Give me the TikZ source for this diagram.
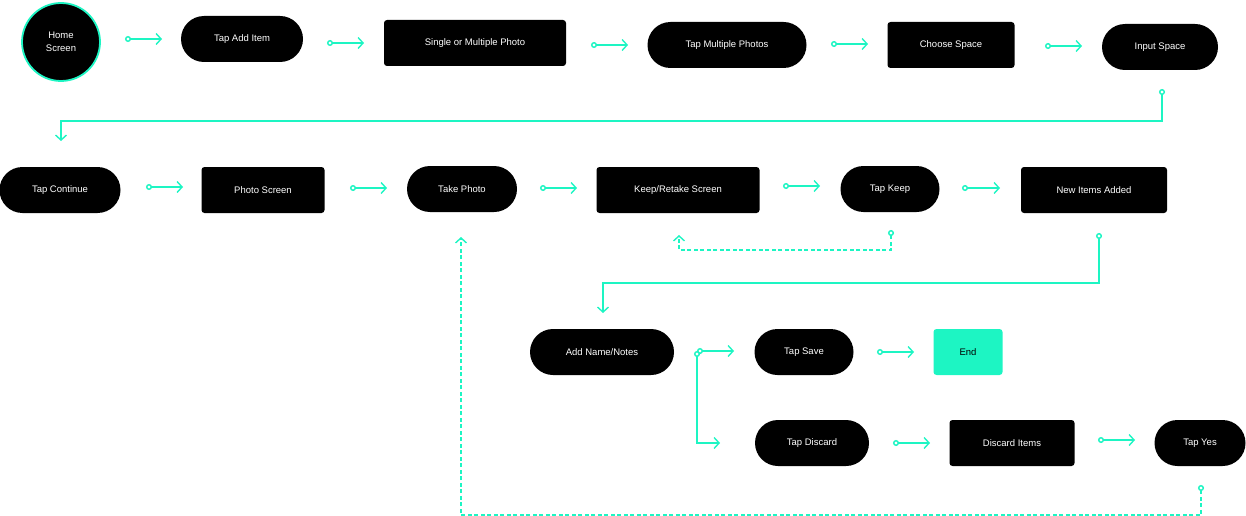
\documentclass[tikz,border=0pt]{standalone}
\usepackage{fontspec}
\setmainfont{Liberation Sans}
\usetikzlibrary{arrows.meta}
\definecolor{mint}{HTML}{1DF5C3}
\begin{document}
\begin{tikzpicture}[x=1pt,y=-1pt,
pill/.style={fill=black,text=white,rounded corners=23pt,minimum height=46pt,font=\fontsize{9.5}{11}\selectfont},
box/.style={fill=black,text=white,rounded corners=3pt,minimum height=46pt,font=\fontsize{9.5}{11}\selectfont},
flow/.style={mint,line width=1.4pt,{Circle[open,length=6pt,width=6pt,fill=white]}-{Straight Barb[length=5pt,width=11pt]}},
back/.style={flow,dashed,dash pattern=on 4pt off 2.5pt}]
\useasboundingbox (0,0) rectangle (1246,516);
\node (home) [circle,fill=black,draw=mint,line width=1.8pt,minimum size=78pt,text=white,align=center,
    font=\fontsize{9.5}{13}\selectfont] at (61,42) {Home\\Screen};
\node (additem) [pill,minimum width=122pt] at (242,39) {Tap Add Item};
\node (single) [box,minimum width=182pt] at (475,43) {Single or Multiple Photo};
\node (multi) [pill,minimum width=159pt] at (727,45) {Tap Multiple Photos};
\node (choose) [box,minimum width=127pt] at (951,45) {Choose Space};
\node (input) [pill,minimum width=116pt] at (1160,47) {Input Space};
\node (cont) [pill,minimum width=121pt] at (60,190) {Tap Continue};
\node (photo) [box,minimum width=123pt] at (263,190) {Photo Screen};
\node (take) [pill,minimum width=110pt] at (462,189) {Take Photo};
\node (retake) [box,minimum width=163pt] at (678,190) {Keep/Retake Screen};
\node (keep) [pill,minimum width=99pt] at (890,189) {Tap Keep};
\node (added) [box,minimum width=146pt] at (1094,190) {New Items Added};
\node (notes) [pill,minimum width=144pt] at (602,352) {Add Name/Notes};
\node (save) [pill,minimum width=99pt] at (804,352) {Tap Save};
\node (end) [box,fill=mint,text=black,minimum width=69pt] at (968,352) {End};
\node (discard) [pill,minimum width=114pt] at (812,443) {Tap Discard};
\node (items) [box,minimum width=125pt] at (1012,443) {Discard Items};
\node (yes) [pill,minimum width=91pt] at (1200,443) {Tap Yes};
% free arrow ends
\coordinate (a1) at (125,39); \coordinate (b1) at (162,39);
\coordinate (a2) at (327,43); \coordinate (b2) at (364,43);
\coordinate (a3) at (591,45); \coordinate (b3) at (628,45);
\coordinate (a4) at (831,44); \coordinate (b4) at (868,44);
\coordinate (a5) at (1045,46); \coordinate (b5) at (1082,46);
\coordinate (a6) at (146,187); \coordinate (b6) at (183,187);
\coordinate (a7) at (350,188); \coordinate (b7) at (387,188);
\coordinate (a8) at (540,188); \coordinate (b8) at (577,188);
\coordinate (a9) at (783,186); \coordinate (b9) at (820,186);
\coordinate (a10) at (962,188); \coordinate (b10) at (1000,188);
\coordinate (a11) at (877,352); \coordinate (b11) at (914,352);
\coordinate (a12) at (893,443); \coordinate (b12) at (930,443);
\coordinate (a13) at (1098,440); \coordinate (b13) at (1135,440);
\foreach \i in {1,...,13} \draw[flow] (a\i) -- (b\i);
\coordinate (inS) at (1162,89); \coordinate (inE) at (61,141);
\draw[flow] (inS) |- (1000,121) -| (inE);
\coordinate (kpS) at (891,230); \coordinate (kpE) at (679,235);
\draw[back] (kpS) |- (700,250) -| (kpE);
\coordinate (niS) at (1099,233); \coordinate (niE) at (603,313);
\draw[flow] (niS) |- (800,283) -| (niE);
\coordinate (nmS) at (697,351); \coordinate (nmE) at (734,351); \coordinate (dsE) at (720,443);
\draw[flow] (nmS) -- (nmE);
\draw[flow] (nmS) |- (dsE);
\coordinate (ysS) at (1201,485); \coordinate (ysE) at (461,237);
\draw[back] (ysS) |- (800,515) -| (ysE);
\end{tikzpicture}
\end{document}
